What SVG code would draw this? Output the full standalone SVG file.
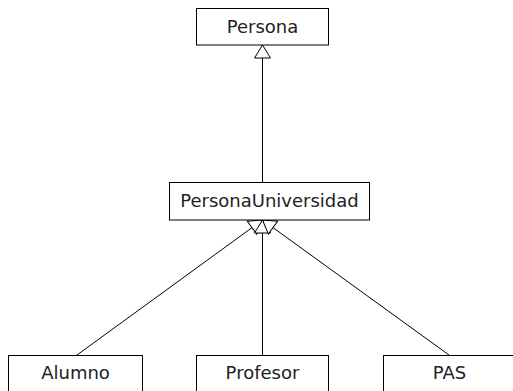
<svg xmlns="http://www.w3.org/2000/svg" width="513" height="391" viewBox="0 0 513 391">
<style>
.box{fill:#fff;stroke:#000;stroke-width:1}
.lbl{font-family:"DejaVu Sans",sans-serif;font-size:18px;fill:#222;text-anchor:middle}
.edge{stroke:#000;stroke-width:1;fill:none;marker-end:url(#gen)}
</style>
<defs>
<marker id="gen" markerUnits="userSpaceOnUse" markerWidth="16" markerHeight="18" refX="14" refY="9" orient="auto" overflow="visible">
<path d="M1,1 L14,9 L1,17 Z" fill="#fff" stroke="#000" stroke-width="1"/>
</marker>
</defs>
<rect width="513" height="391" fill="#fff"/>
<g id="connectors">
<line class="edge" x1="262.5" y1="182" x2="262.5" y2="45"/>
<line class="edge" x1="77" y1="355" x2="262.5" y2="220"/>
<line class="edge" x1="262.5" y1="355" x2="262.5" y2="220"/>
<line class="edge" x1="449" y1="355" x2="262.5" y2="220"/>
</g>
<g id="persona">
<rect class="box" x="196.5" y="8.5" width="132" height="36.5"/>
<text class="lbl" x="262.5" y="32.5">Persona</text>
</g>
<g id="personaUniversidad">
<rect class="box" x="169.5" y="182.5" width="200" height="37.5"/>
<text class="lbl" x="269.5" y="207">PersonaUniversidad</text>
</g>
<g id="alumno">
<rect class="box" x="8.5" y="355.5" width="134" height="50"/>
<text class="lbl" x="75.5" y="378.5">Alumno</text>
</g>
<g id="profesor">
<rect class="box" x="196.5" y="355.5" width="132" height="50"/>
<text class="lbl" x="262.5" y="378.5">Profesor</text>
</g>
<g id="pas">
<rect class="box" x="383.5" y="355.5" width="132" height="50"/>
<text class="lbl" x="449.5" y="378.5">PAS</text>
</g>
</svg>
